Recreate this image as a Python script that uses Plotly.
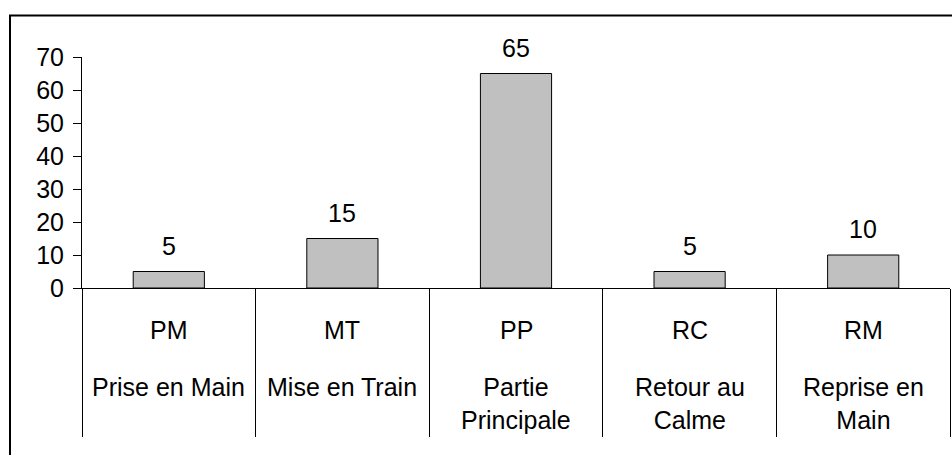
import plotly.graph_objects as go

codes = ["PM", "MT", "PP", "RC", "RM"]
names = ["Prise en Main", "Mise en Train", "Partie<br>Principale", "Retour au<br>Calme", "Reprise en<br>Main"]
values = [5, 15, 65, 5, 10]
y_ticks = [0, 10, 20, 30, 40, 50, 60, 70]

FONT = "Liberation Sans, Arial, sans-serif"
FS = 25

FIG_W, FIG_H = 952, 455
L = 82
R = 952 - 950
TOP = 56.7
BOT = 288.3
W_PLOT = FIG_W - L - R
H_PLOT = BOT - TOP

fig = go.Figure()
fig.add_trace(go.Bar(
    x=codes, y=values, width=0.41,
    marker=dict(color="#C0C0C0", line=dict(color="black", width=1)),
    hoverinfo="skip",
))

annotations = []
for c, v in zip(codes, values):
    annotations.append(dict(x=c, y=v, xref="x", yref="y", text=str(v), showarrow=False,
                            yanchor="bottom", yshift=10, font=dict(family=FONT, size=FS, color="black")))
for c, n in zip(codes, names):
    annotations.append(dict(x=c, y=0, xref="x", yref="y", text=c, showarrow=False,
                            yanchor="middle", yshift=-42, font=dict(family=FONT, size=FS, color="black")))
    annotations.append(dict(x=c, y=0, xref="x", yref="y", text=n, showarrow=False,
                            yanchor="top", yshift=-83, font=dict(family=FONT, size=FS, color="black")))

fig.update_layout(
    width=FIG_W, height=FIG_H,
    margin=dict(l=L, r=R, t=TOP, b=FIG_H - BOT, pad=0),
    paper_bgcolor="white", plot_bgcolor="white",
    showlegend=False,
    annotations=annotations,
    font=dict(family=FONT, size=FS, color="black"),
    shapes=[dict(type="rect", xref="paper", yref="paper",
                 x0=(10 - L) / W_PLOT, x1=(FIG_W + 5 - L) / W_PLOT,
                 y0=(BOT - (FIG_H + 10)) / H_PLOT, y1=(BOT - 15) / H_PLOT,
                 line=dict(color="black", width=2), layer="above")],
)
fig.update_xaxes(
    type="category", range=[-0.5, 4.5],
    showline=True, linecolor="black", linewidth=1,
    ticks="outside", tickson="boundaries", ticklen=148, tickcolor="black", tickwidth=1,
    showticklabels=False, showgrid=False, zeroline=False,
)
fig.update_yaxes(
    range=[0, 70], tickvals=y_ticks, ticktext=[str(t) for t in y_ticks],
    showline=True, linecolor="black", linewidth=1,
    ticks="outside", ticklen=8, tickcolor="black", tickwidth=1,
    ticklabelstandoff=4,
    tickfont=dict(family=FONT, size=FS, color="black"),
    showgrid=False, zeroline=False,
)

fig.write_html(
    "out.html",
    config={"displayModeBar": False},
    post_script="document.body.style.margin='0';document.body.style.overflow='hidden';",
)
